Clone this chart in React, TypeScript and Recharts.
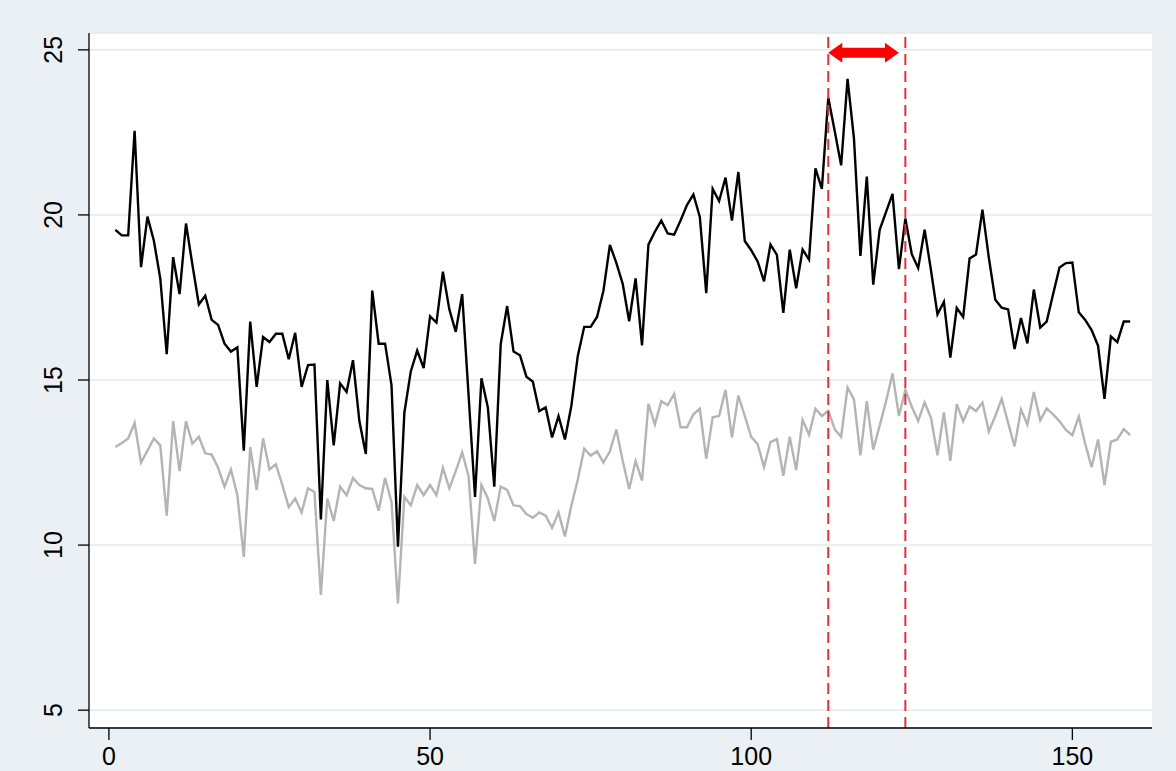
import React from 'react';
import { LineChart, Line, XAxis, YAxis, CartesianGrid, ReferenceLine } from 'recharts';

const blackSeries = [
  19.55, 19.38, 19.38, 22.55, 18.42, 19.95, 19.22, 18.07, 15.78, 18.72,
  17.6, 19.74, 18.49, 17.29, 17.55, 16.82, 16.67, 16.1, 15.86, 15.99,
  12.86, 16.77, 14.79, 16.3, 16.15, 16.4, 16.4, 15.63, 16.43, 14.79,
  15.45, 15.47, 10.78, 15.0, 13.02, 14.9, 14.64, 15.6, 13.75, 12.76,
  17.71, 16.1, 16.1, 14.84, 9.95, 14.01, 15.26, 15.89, 15.36, 16.93,
  16.74, 18.28, 17.14, 16.46, 17.6, 14.53, 11.46, 15.05, 14.17, 11.77,
  16.09, 17.24, 15.86, 15.75, 15.1, 14.95, 14.06, 14.17, 13.26, 13.91,
  13.2, 14.22, 15.73, 16.61, 16.61, 16.91, 17.71, 19.09, 18.55, 17.91,
  16.78, 18.08, 16.05, 19.1, 19.49, 19.83, 19.44, 19.4, 19.83, 20.3,
  20.62, 19.94, 17.63, 20.79, 20.42, 21.13, 19.83, 21.3, 19.21, 18.93,
  18.59, 17.99, 19.1, 18.79, 17.03, 18.95, 17.78, 18.95, 18.65, 21.41,
  20.79, 23.55, 22.54, 21.5, 24.12, 22.31, 18.76, 21.16, 17.89, 19.55,
  20.09, 20.64, 18.36, 19.89, 18.81, 18.39, 19.55, 18.31, 16.99, 17.37,
  15.68, 17.18, 16.91, 18.68, 18.8, 20.16, 18.7, 17.43, 17.19, 17.14,
  15.94, 16.88, 16.11, 17.74, 16.59, 16.77, 17.6, 18.41, 18.54, 18.56,
  17.05, 16.82, 16.51, 16.04, 14.43, 16.32, 16.15, 16.77, 16.77,
];

const greySeries = [
  12.97, 13.09, 13.23, 13.7, 12.5, 12.86, 13.23, 13.02, 10.89, 13.75,
  12.24, 13.75, 13.07, 13.28, 12.78, 12.74, 12.34, 11.77, 12.29, 11.51,
  9.64, 12.97, 11.67, 13.23, 12.29, 12.45, 11.82, 11.15, 11.41, 10.99,
  11.72, 11.61, 8.49, 11.41, 10.73, 11.77, 11.51, 12.03, 11.82, 11.72,
  11.7, 11.04, 12.03, 11.3, 8.23, 11.46, 11.2, 11.82, 11.51, 11.82,
  11.51, 12.34, 11.72, 12.24, 12.81, 12.08, 9.43, 11.82, 11.41, 10.73,
  11.77, 11.67, 11.2, 11.18, 10.94, 10.83, 10.99, 10.89, 10.52, 10.99,
  10.26, 11.2, 11.98, 12.92, 12.71, 12.84, 12.5, 12.84, 13.5, 12.55,
  11.7, 12.55, 11.95, 14.28, 13.65, 14.36, 14.24, 14.58, 13.57, 13.57,
  13.96, 14.13, 12.61, 13.87, 13.91, 14.7, 13.26, 14.53, 13.91, 13.28,
  13.06, 12.36, 13.12, 13.21, 12.1, 13.28, 12.27, 13.79, 13.34, 14.13,
  13.91, 14.07, 13.51, 13.28, 14.77, 14.41, 12.72, 14.36, 12.89, 13.62,
  14.36, 15.2, 13.91, 14.7, 14.19, 13.76, 14.32, 13.85, 12.72, 14.02,
  12.55, 14.27, 13.75, 14.2, 14.06, 14.32, 13.44, 13.91, 14.43, 13.7,
  12.99, 14.11, 13.65, 14.64, 13.78, 14.14, 13.96, 13.75, 13.49, 13.33,
  13.89, 13.07, 12.36, 13.2, 11.82, 13.13, 13.2, 13.51, 13.33,
];

const xTicks = [0, 50, 100, 150];
const yTicks = [5, 10, 15, 20, 25];
const windowLines = [112, 124];
const arrowStart = 112;
const arrowEnd = 123;
const arrowLevel = 25;

const data = blackSeries.map((v, i) => ({ t: i + 1, black: v, grey: greySeries[i] }));

const FONT = '"Liberation Sans", Arial, sans-serif';

const YTick = (props: any) => {
  const { y, payload } = props;
  return (
    <text
      x={53}
      y={y}
      transform={`rotate(-90 53 ${y})`}
      textAnchor="middle"
      dominantBaseline="central"
      fontSize={25}
      fill="#000"
      fontFamily={FONT}
    >
      {payload.value}
    </text>
  );
};

const XTick = (props: any) => {
  const { x, payload } = props;
  return (
    <text x={x} y={765} textAnchor="middle" fontSize={25} fill="#000" fontFamily={FONT}>
      {payload.value}
    </text>
  );
};

const ArrowShape = (props: any) => {
  const { x1, y1, x2 } = props;
  if (x1 == null || x2 == null) return null;
  const cy = y1 + 3;
  const head = 14;
  const hh = 10;
  const sh = 5;
  const pts = [
    [x1, cy],
    [x1 + head, cy - hh],
    [x1 + head, cy - sh],
    [x2 - head, cy - sh],
    [x2 - head, cy - hh],
    [x2, cy],
    [x2 - head, cy + hh],
    [x2 - head, cy + sh],
    [x1 + head, cy + sh],
    [x1 + head, cy + hh],
  ]
    .map((p) => p.join(','))
    .join(' ');
  return <polygon points={pts} fill="#ff0000" stroke="none" />;
};

export default function App() {
  return (
    <div
      style={{
        position: 'absolute',
        left: 0,
        top: 0,
        width: 1176,
        height: 771,
        background: '#eaf0f3',
        overflow: 'hidden',
      }}
    >
      <LineChart
        width={1176}
        height={771}
        data={data}
        margin={{ top: 33, right: 24, bottom: 0, left: 0 }}
      >
        <CartesianGrid vertical={false} stroke="#e4eaec" strokeWidth={1.5} fill="#ffffff" fillOpacity={1} />
        <XAxis
          type="number"
          dataKey="t"
          domain={[-3.1, 162.4]}
          ticks={xTicks}
          allowDataOverflow
          height={43}
          tickSize={12}
          axisLine={{ stroke: '#000', strokeWidth: 1.3 }}
          tickLine={{ stroke: '#000', strokeWidth: 1.3 }}
          tick={<XTick />}
          interval={0}
        />
        <YAxis
          type="number"
          domain={[4.46, 25.51]}
          ticks={yTicks}
          allowDataOverflow
          width={89}
          tickSize={11}
          axisLine={{ stroke: '#000', strokeWidth: 1.3 }}
          tickLine={{ stroke: '#000', strokeWidth: 1.3 }}
          tick={<YTick />}
          interval={0}
        />
        <Line
          type="linear"
          dataKey="grey"
          stroke="#b4b4b4"
          strokeWidth={2.4}
          dot={false}
          isAnimationActive={false}
        />
        <Line
          type="linear"
          dataKey="black"
          stroke="#000000"
          strokeWidth={2.4}
          dot={false}
          isAnimationActive={false}
        />
        {windowLines.map((v) => (
          <ReferenceLine key={v} x={v} stroke="#e0303a" strokeWidth={2} strokeDasharray="11 6" />
        ))}
        <ReferenceLine
          segment={[
            { x: arrowStart, y: arrowLevel },
            { x: arrowEnd, y: arrowLevel },
          ]}
          shape={<ArrowShape />}
        />
      </LineChart>
    </div>
  );
}
